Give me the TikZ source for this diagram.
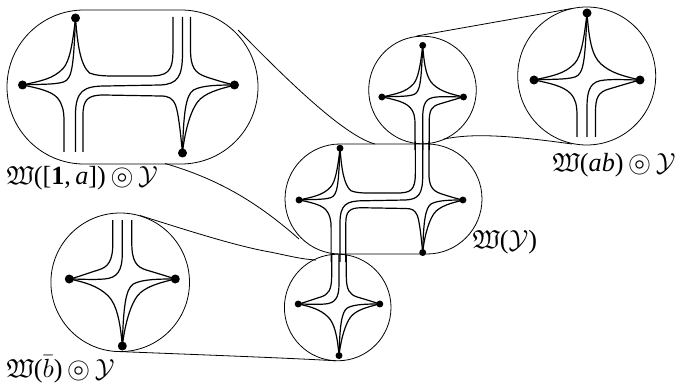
\documentclass[tikz,border=0pt]{standalone}
\usepackage{amsmath,amssymb}
\usepackage{fontspec}
\setmainfont{Liberation Serif}
\tikzset{
  strand/.style={line width=1.2pt,black},
  outline/.style={line width=0.8pt,black},
  lbl/.style={inner sep=0pt,anchor=west,scale=2.62},
}
\newcommand{\ringdot}{\raisebox{-0.1ex}{\scalebox{1.15}{$\circledcirc$}}}
\newcommand{\pdot}[2]{\fill (#1,#2) circle[radius=4.5];}
% upper-left corner: two curves
\newcommand{\cWNo}{\draw[strand] (-53,0) .. controls (-35,-4) and (-22,-6) .. (-12,-17) .. controls (-6,-24) and (-3,-40) .. (0,-67);}
\newcommand{\cWNi}{\draw[strand] (-53,0) .. controls (-38,-1) and (-22,0) .. (-12,-3) .. controls (-3,-6) and (-2,-20) .. (0,-67);}
\newcommand{\cNE}{\draw[strand] (0,-67) .. controls (2,-40) and (5,-24) .. (14,-16) .. controls (24,-7) and (36,-4) .. (53,0);}
\newcommand{\cWSv}[1]{\draw[strand] (-53,0) .. controls (-38,3) and (-24,6) .. (-17,13) .. controls (-11,19) and (-10,26) .. (-10,36) -- (-10,#1);}
\newcommand{\cWS}{\draw[strand] (-53,0) .. controls (-38,3) and (-24,7) .. (-14,17) .. controls (-6,25) and (-2,42) .. (0,67);}
\newcommand{\cESo}{\draw[strand] (53,0) .. controls (36,4) and (22,8) .. (15,17) .. controls (9,25) and (3,42) .. (0,67);}
\newcommand{\cESi}{\draw[strand] (53,0) .. controls (38,0) and (20,0) .. (11,5) .. controls (3,10) and (1,30) .. (0,67);}
% star with three legs down
\newcommand{\stardown}[1]{%
  \cWNo \cWNi \cNE \cWSv{#1}
  \draw[strand] (0,#1) -- (0,28) .. controls (0,8) and (4,1) .. (18,0) .. controls (30,-1) and (42,0) .. (53,0);
  \draw[strand] (8.5,#1) -- (8.5,32) .. controls (8.5,18) and (11,12) .. (22,9) .. controls (32,6) and (42,3) .. (53,0);
  \pdot{-53}{0}\pdot{53}{0}\pdot{0}{-67}}
% star with three legs up
\newcommand{\starup}[1]{%
  \cWS \cESo \cESi
  \draw[strand] (-9.5,-#1) -- (-9.5,-36) .. controls (-9.5,-18) and (-14,-12) .. (-24,-9) .. controls (-34,-6) and (-44,-2) .. (-53,0);
  \draw[strand] (0,-#1) -- (0,-26) .. controls (0,-8) and (-5,-1) .. (-18,0) .. controls (-30,1) and (-42,0) .. (-53,0);
  \draw[strand] (9.5,-#1) -- (9.5,-36) .. controls (9.5,-18) and (14,-12) .. (24,-9) .. controls (34,-6) and (44,-3) .. (53,0);
  \pdot{-53}{0}\pdot{53}{0}\pdot{0}{67}}
% double cross; #1 top leg length, #2 bottom leg length
\newcommand{\doublecross}[2]{%
  \cWNo \cWNi
  \draw[strand] (0,-67) .. controls (2,-40) and (5,-20) .. (14,-12) .. controls (20,-9.5) and (28,-9) .. (38,-9) -- (72,-9) .. controls (92,-9) and (97.5,-12) .. (97.5,-36) -- (97.5,-#1);
  \draw[strand] (107,-#1) -- (107,-32) .. controls (107,-8) and (102,-1) .. (85,0) -- (30,1) .. controls (8,1) and (0,6) .. (0,30) -- (0,#2);
  \draw[strand] (7.5,#2) -- (7.5,30) .. controls (7.5,15) and (12,10) .. (28,10) -- (85,11) .. controls (93,11) and (97,13) .. (100,20) .. controls (103,28) and (105,48) .. (107,68);
  \draw[strand] (-53,0) .. controls (-38,3) and (-24,6) .. (-18,13) .. controls (-13,19) and (-11.5,26) .. (-11.5,36) -- (-11.5,#2);
  \draw[strand] (115,-#1) -- (115,-36) .. controls (115,-18) and (119,-12) .. (131,-8) .. controls (140,-5) and (150,-2) .. (159,0);
  \begin{scope}[shift={(107,0)}] \cESo \cESi \end{scope}
  \pdot{-53}{0}\pdot{0}{-67}\pdot{159}{0}\pdot{107}{68}}
\begin{document}
\begin{tikzpicture}[x=1pt,y=-1pt]
\useasboundingbox (0,0) rectangle (676,387);
% outlines
\draw[outline,rounded corners=77pt] (7,10) rectangle (258,164);
\draw[outline,rounded corners=55pt] (285,144) rectangle (482,254);
\draw[outline] (422.5,90) circle[radius=53.8pt];
\draw[outline] (586.7,76) circle[radius=69pt];
\draw[outline] (120.2,282.3) circle[radius=69.3pt];
\draw[outline] (337.7,307.5) circle[radius=53.3pt];
% lens connectors
\coordinate (la) at (238,30);
\coordinate (lb) at (375,144);
\coordinate (lc) at (165,163.5);
\coordinate (ld) at (299,239);
\coordinate (le) at (140,215.5);
\coordinate (lf) at (316,260);
\coordinate (lg) at (118,351.5);
\coordinate (lh) at (336,360.8);
\coordinate (li) at (416.7,36);
\coordinate (lj) at (572,8.5);
\coordinate (lk) at (444,139);
\coordinate (ll) at (572,144);
\draw[outline] (la) .. controls (270,62) and (340,135) .. (lb);
\draw[outline] (lc) .. controls (215,178) and (255,200) .. (ld);
\draw[outline] (le) .. controls (180,228) and (235,246) .. (270,252) .. controls (290,256) and (300,259) .. (lf);
\draw[outline] (lg) .. controls (180,354) and (290,358) .. (lh);
\draw[outline] (li) -- (lj);
\draw[outline] (lk) .. controls (470,134) and (500,134) .. (ll);
% stars
\begin{scope}[shift={(75.5,85)}] \doublecross{68}{67} \end{scope}
\begin{scope}[shift={(340,200)},scale=.773] \doublecross{76}{80} \end{scope}
\begin{scope}[shift={(587,80)}] \stardown{57} \end{scope}
\begin{scope}[shift={(422.7,97)},scale=.77] \stardown{69} \end{scope}
\begin{scope}[shift={(122.3,279)}] \starup{59} \end{scope}
\begin{scope}[shift={(339,304)},scale=.77] \starup{64} \end{scope}
% labels
\node[lbl] (t1) at (6,178) {$\mathfrak{W}$([\textbf{1},\,\textit{a}])\,\ringdot\,$\mathcal{Y}$};
\node[lbl] (t2) at (552,165) {$\mathfrak{W}$(\textit{ab})\,\ringdot\,$\mathcal{Y}$};
\node[lbl] (t3) at (472,242) {$\mathfrak{W}$($\mathcal{Y}$)};
\node[lbl] (t4) at (6,369) {$\mathfrak{W}$($\bar{b}$)\,\ringdot\,$\mathcal{Y}$};
\end{tikzpicture}
\end{document}
